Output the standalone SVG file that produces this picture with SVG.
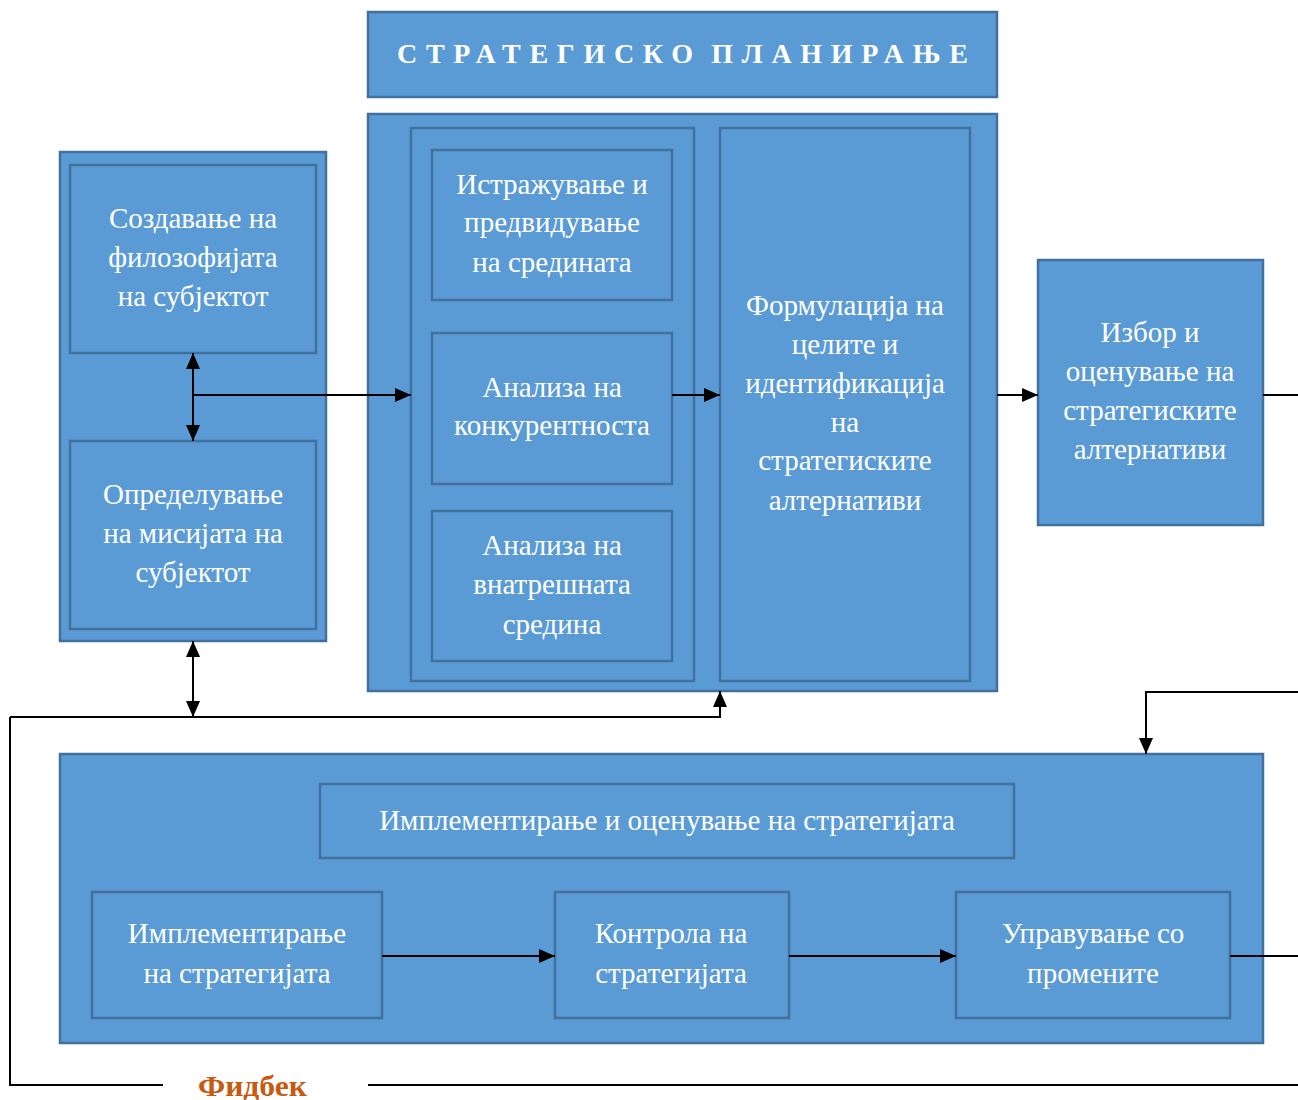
<svg xmlns="http://www.w3.org/2000/svg" width="1298" height="1100" viewBox="0 0 1298 1100">
<style>
.b{fill:#5B9BD5;stroke:#41719C;stroke-width:2.5}
.t{font-family:"Liberation Serif","Times New Roman",serif;font-size:29px;fill:#FFFFFF;text-anchor:middle}
.c{fill:none;stroke:#000;stroke-width:2}
</style>
<defs>
<marker id="ah" viewBox="0 0 16 14" refX="16" refY="7" markerWidth="16" markerHeight="14" markerUnits="userSpaceOnUse" orient="auto-start-reverse">
<path d="M0,0 L16,7 L0,14 z" fill="#000"/>
</marker>
</defs>
<rect width="1298" height="1100" fill="#FFFFFF"/>
<g id="title"><rect class="b" x="368" y="12" width="629" height="85"/>
<text x="397" y="63" textLength="571" lengthAdjust="spacing" style="font-family:'Liberation Serif','Times New Roman',serif;font-size:28px;font-weight:bold;fill:#FFFFFF;word-spacing:-6px">СТРАТЕГИСКО ПЛАНИРАЊЕ</text></g>
<g id="planning"><rect class="b" x="368" y="114" width="629" height="577"/>
<rect class="b" x="411" y="128" width="283" height="553"/></g>
<g id="research"><rect class="b" x="432" y="150" width="240" height="150"/>
<text class="t" x="552" y="194">Истражување и</text><text class="t" x="552" y="232">предвидување</text><text class="t" x="552" y="272">на средината</text></g>
<g id="competition"><rect class="b" x="432" y="333" width="240" height="151"/>
<text class="t" x="552" y="397">Анализа на</text><text class="t" x="552" y="435">конкурентноста</text></g>
<g id="internal"><rect class="b" x="432" y="511" width="240" height="150"/>
<text class="t" x="552" y="555">Анализа на</text><text class="t" x="552" y="594">внатрешната</text><text class="t" x="552" y="634">средина</text></g>
<g id="formulation"><rect class="b" x="720" y="128" width="250" height="553"/>
<text class="t" x="845" y="315">Формулација на</text><text class="t" x="845" y="354">целите и</text><text class="t" x="845" y="393">идентификација</text><text class="t" x="845" y="432">на</text><text class="t" x="845" y="470">стратегиските</text><text class="t" x="845" y="510">алтернативи</text></g>
<g id="leftgroup"><rect class="b" x="60" y="152" width="266" height="489"/></g>
<g id="philosophy"><rect class="b" x="70" y="165" width="246" height="188"/>
<text class="t" x="193" y="228">Создавање на</text><text class="t" x="193" y="267">филозофијата</text><text class="t" x="193" y="306">на субјектот</text></g>
<g id="mission"><rect class="b" x="70" y="441" width="246" height="188"/>
<text class="t" x="193" y="504">Определување</text><text class="t" x="193" y="543">на мисијата на</text><text class="t" x="193" y="582">субјектот</text></g>
<g id="choice"><rect class="b" x="1038" y="260" width="225" height="265"/>
<text class="t" x="1150" y="342">Избор и</text><text class="t" x="1150" y="381">оценување на</text><text class="t" x="1150" y="420">стратегиските</text><text class="t" x="1150" y="459">алтернативи</text></g>
<g id="implementation-group"><rect class="b" x="60" y="754" width="1203" height="289"/>
<rect class="b" x="320" y="784" width="694" height="74"/>
<text class="t" x="667" y="830">Имплементирање и оценување на стратегијата</text></g>
<g id="implement"><rect class="b" x="92" y="892" width="290" height="126"/>
<text class="t" x="237" y="943">Имплементирање</text><text class="t" x="237" y="983">на стратегијата</text></g>
<g id="control"><rect class="b" x="555" y="892" width="234" height="126"/>
<text class="t" x="671" y="943">Контрола на</text><text class="t" x="671" y="983">стратегијата</text></g>
<g id="change"><rect class="b" x="956" y="892" width="274" height="126"/>
<text class="t" x="1093" y="943">Управување со</text><text class="t" x="1093" y="983">промените</text></g>
<g id="connectors">
<line class="c" x1="193" y1="353" x2="193" y2="441" marker-start="url(#ah)" marker-end="url(#ah)"/>
<line class="c" x1="193" y1="395" x2="411" y2="395" marker-end="url(#ah)"/>
<line class="c" x1="672" y1="395" x2="720" y2="395" marker-end="url(#ah)"/>
<line class="c" x1="997" y1="395" x2="1038" y2="395" marker-end="url(#ah)"/>
<line class="c" x1="1263" y1="395" x2="1298" y2="395"/>
<line class="c" x1="193" y1="641" x2="193" y2="717" marker-start="url(#ah)" marker-end="url(#ah)"/>
<polyline class="c" points="10,717 720,717 720,691" marker-end="url(#ah)"/>
<polyline class="c" points="163,1085 10,1085 10,717"/>
<line class="c" x1="368" y1="1085" x2="1298" y2="1085"/>
<polyline class="c" points="1298,692 1146,692 1146,754" marker-end="url(#ah)"/>
<line class="c" x1="382" y1="956" x2="555" y2="956" marker-end="url(#ah)"/>
<line class="c" x1="789" y1="956" x2="956" y2="956" marker-end="url(#ah)"/>
<line class="c" x1="1230" y1="956" x2="1298" y2="956"/>
</g>
<g id="feedback"><text x="198" y="1096" textLength="109" lengthAdjust="spacingAndGlyphs" style="font-family:'Liberation Serif','Times New Roman',serif;font-size:30px;font-weight:bold;fill:#C55A11">Фидбек</text></g>
</svg>
